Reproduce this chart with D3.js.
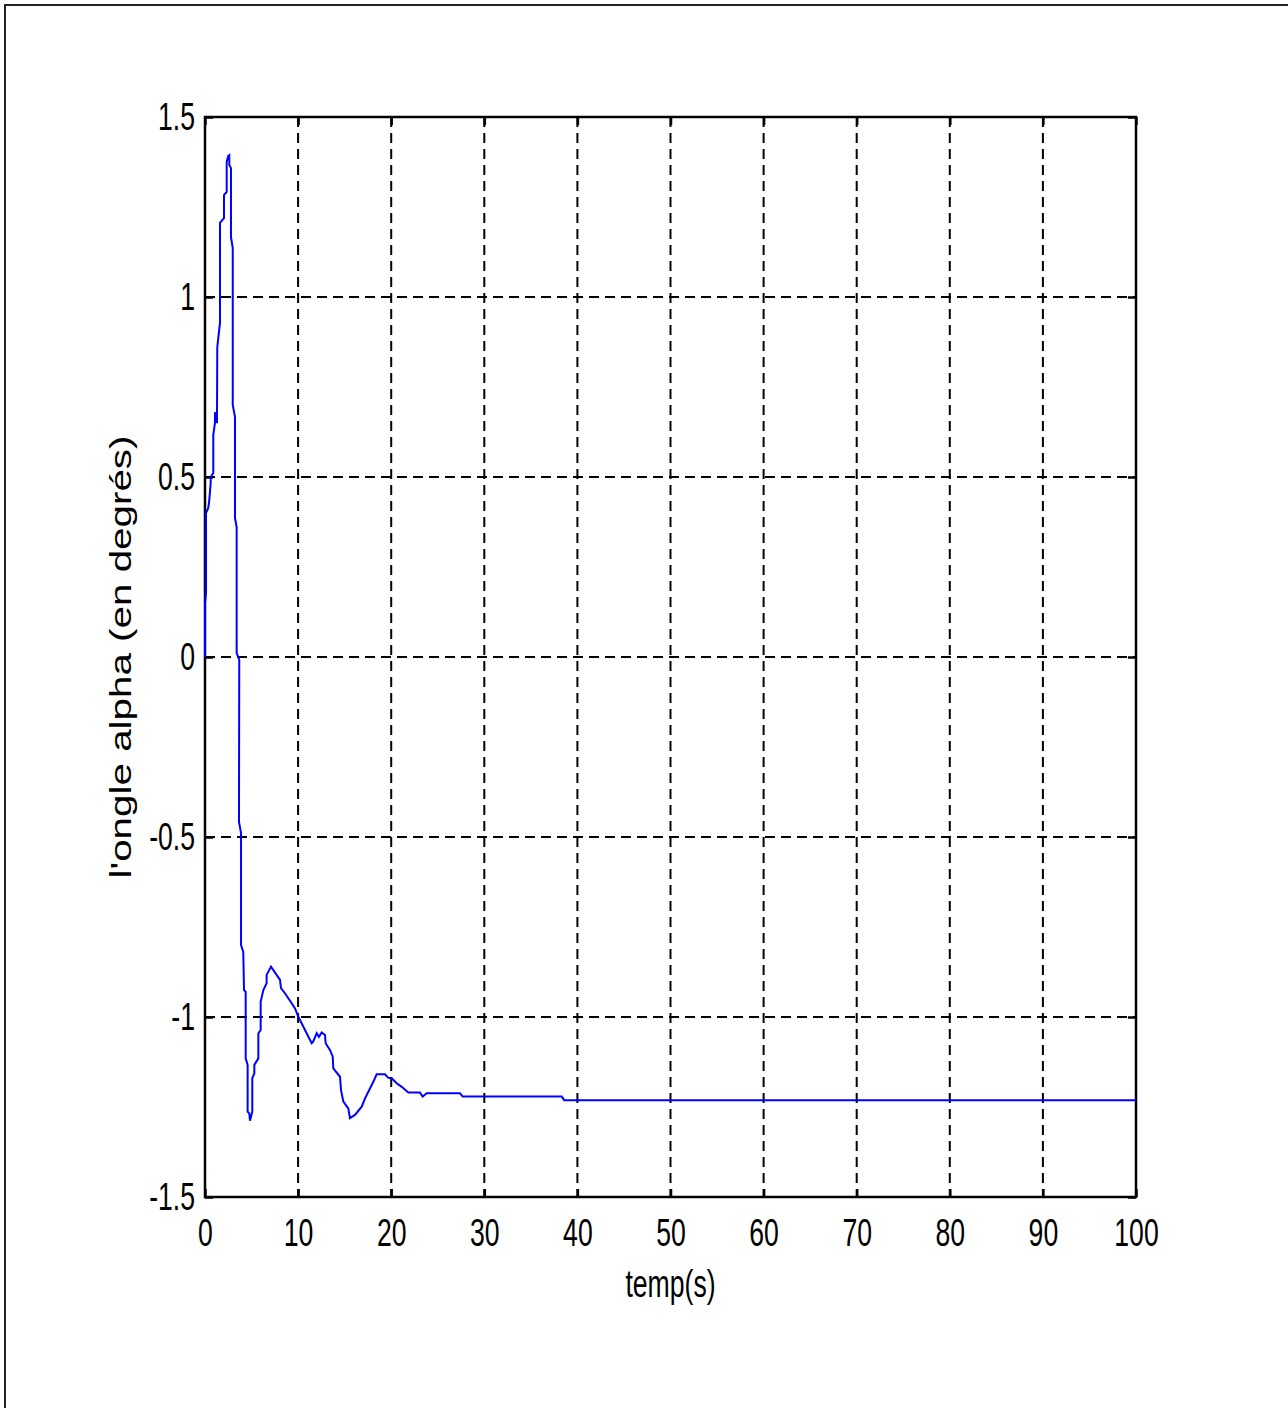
<!DOCTYPE html>
<meta charset="utf-8">
<style>
body { margin: 0; background: #fff; }
.grid line { stroke: #000; stroke-width: 2px; stroke-dasharray: 10,6; }
.axis text { font-family: "Liberation Sans", Arial, sans-serif; font-size: 38px; fill: #000; }
.axis line { stroke: #000; stroke-width: 2.5px; }
.axis path { display: none; }
</style>
<svg width="1288" height="1408"></svg>
<script src="https://d3js.org/d3.v7.min.js"></script>
<script>

// time (s) and angle alpha
var temps = [0, 0, 0.11, 0.11, 0.35, 0.46, 0.61, 0.61, 0.89, 0.89, 1.07, 1.07, 1.29, 1.29, 1.32, 1.61, 1.61,
  2.04, 2.04, 2.33, 2.33, 2.50, 2.61, 2.61, 2.79, 2.79, 2.98, 2.98, 3.22, 3.22, 3.40, 3.40, 3.68, 3.65, 3.87, 3.87,
  4.11, 4.19, 4.37, 4.37, 4.58, 4.58, 4.76, 4.83, 5.08, 5.08, 5.30, 5.30, 5.73, 5.73, 5.98, 5.98, 6.27, 6.62, 6.62,
  7.09, 8.06, 8.16, 8.59, 9.31, 9.67, 10.02, 10.74, 11.46, 11.63, 12.0, 12.24, 12.53, 12.89, 12.96, 13.43, 13.72,
  13.78, 14.50, 14.61, 14.86, 15.39, 15.57, 16.11, 16.83, 17.19, 18.08, 18.44, 19.33, 19.69, 20.05, 20.59, 21.13,
  21.84, 23.09, 23.38, 23.81, 27.39, 27.68, 38.31, 38.59, 100];
var alpha = [0, 0.15, 0.178, 0.40, 0.414, 0.436, 0.483, 0.50, 0.511, 0.617, 0.65, 0.68, 0.65, 0.68, 0.861, 0.928, 1.206,
  1.219, 1.283, 1.292, 1.375, 1.392, 1.394, 1.367, 1.358, 1.167, 1.136, 0.70, 0.667, 0.386, 0.361, 0.011, -0.008, -0.458, -0.489, -0.80,
  -0.819, -0.925, -0.93, -1.115, -1.133, -1.263, -1.268, -1.288, -1.263, -1.170, -1.157, -1.133, -1.115, -1.045, -1.036, -0.957, -0.925, -0.906, -0.883,
  -0.860, -0.897, -0.920, -0.934, -0.962, -0.976, -0.999, -1.036, -1.073, -1.068, -1.045, -1.055, -1.043, -1.05, -1.073, -1.092, -1.110,
  -1.143, -1.166, -1.203, -1.235, -1.254, -1.281, -1.272, -1.249, -1.226, -1.180, -1.159, -1.159, -1.169, -1.170, -1.184, -1.194,
  -1.210, -1.210, -1.221, -1.212, -1.212, -1.221, -1.221, -1.231, -1.231];

var xTicks = [0, 10, 20, 30, 40, 50, 60, 70, 80, 90, 100];
var yTicks = [-1.5, -1, -0.5, 0, 0.5, 1, 1.5];

var svg = d3.select("svg"),
  pLeft = 205, pRight = 1136, pTop = 117, pBottom = 1197;

// outer frame
svg.append("rect").attr("x", 5).attr("y", 5).attr("width", 1300).attr("height", 1420)
  .attr("fill", "none").attr("stroke", "#222").attr("stroke-width", 2);

var x = d3.scaleLinear().domain([0, 100]).range([pLeft, pRight]);
var y = d3.scaleLinear().domain([-1.5, 1.5]).range([pBottom, pTop]);

// dashed grid
var grid = svg.append("g").attr("class", "grid");
grid.selectAll(".v").data(xTicks.slice(1, -1)).enter().append("line")
  .attr("x1", d => x(d)).attr("x2", d => x(d)).attr("y1", pTop).attr("y2", pBottom);
grid.selectAll(".h").data(yTicks.slice(1, -1)).enter().append("line")
  .attr("y1", d => y(d)).attr("y2", d => y(d)).attr("x1", pLeft).attr("x2", pRight);

// axes with inward ticks on every side
var fmt = d => String(d);
svg.append("g").attr("class", "axis").attr("transform", "translate(0," + pBottom + ")")
  .call(d3.axisBottom(x).tickValues(xTicks).tickFormat(fmt).tickSize(-8).tickPadding(22));
svg.append("g").attr("class", "axis").attr("transform", "translate(0," + pTop + ")")
  .call(d3.axisTop(x).tickValues(xTicks).tickFormat("").tickSize(-8));
svg.append("g").attr("class", "axis").attr("transform", "translate(" + pLeft + ",0)")
  .call(d3.axisLeft(y).tickValues(yTicks).tickFormat(fmt).tickSize(-8).tickPadding(10));
svg.append("g").attr("class", "axis").attr("transform", "translate(" + pRight + ",0)")
  .call(d3.axisRight(y).tickValues(yTicks).tickFormat("").tickSize(-8));

// plot box
svg.append("rect").attr("x", pLeft).attr("y", pTop).attr("width", pRight - pLeft).attr("height", pBottom - pTop)
  .attr("fill", "none").attr("stroke", "#000").attr("stroke-width", 2.5);

// curve
var pts = temps.map((t, i) => [t, alpha[i]]);
svg.append("path").datum(pts)
  .attr("fill", "none").attr("stroke", "#0000ff").attr("stroke-width", 2)
  .attr("d", d3.line().x(d => x(d[0])).y(d => y(d[1])));

// labels
svg.append("text").attr("class", "narrow").attr("x", (pLeft + pRight) / 2).attr("y", 1297)
  .attr("text-anchor", "middle").attr("font-family", "Liberation Sans, Arial, sans-serif")
  .attr("font-size", 38).text("temp(s)");
svg.append("text").attr("transform", "translate(131," + y(0) + ") rotate(-90)")
  .attr("text-anchor", "middle").attr("font-family", "Liberation Sans, Arial, sans-serif")
  .attr("font-size", 30).attr("textLength", 443).attr("lengthAdjust", "spacingAndGlyphs")
  .text("l'ongle alpha (en degrés)");

// narrow the tick labels and x title like the original (condensed face)
svg.selectAll(".axis text, text.narrow").each(function() {
  var t = d3.select(this);
  if (!t.text()) return;
  var w = this.getComputedTextLength();
  t.attr("textLength", w * 0.7).attr("lengthAdjust", "spacingAndGlyphs");
});
</script>
